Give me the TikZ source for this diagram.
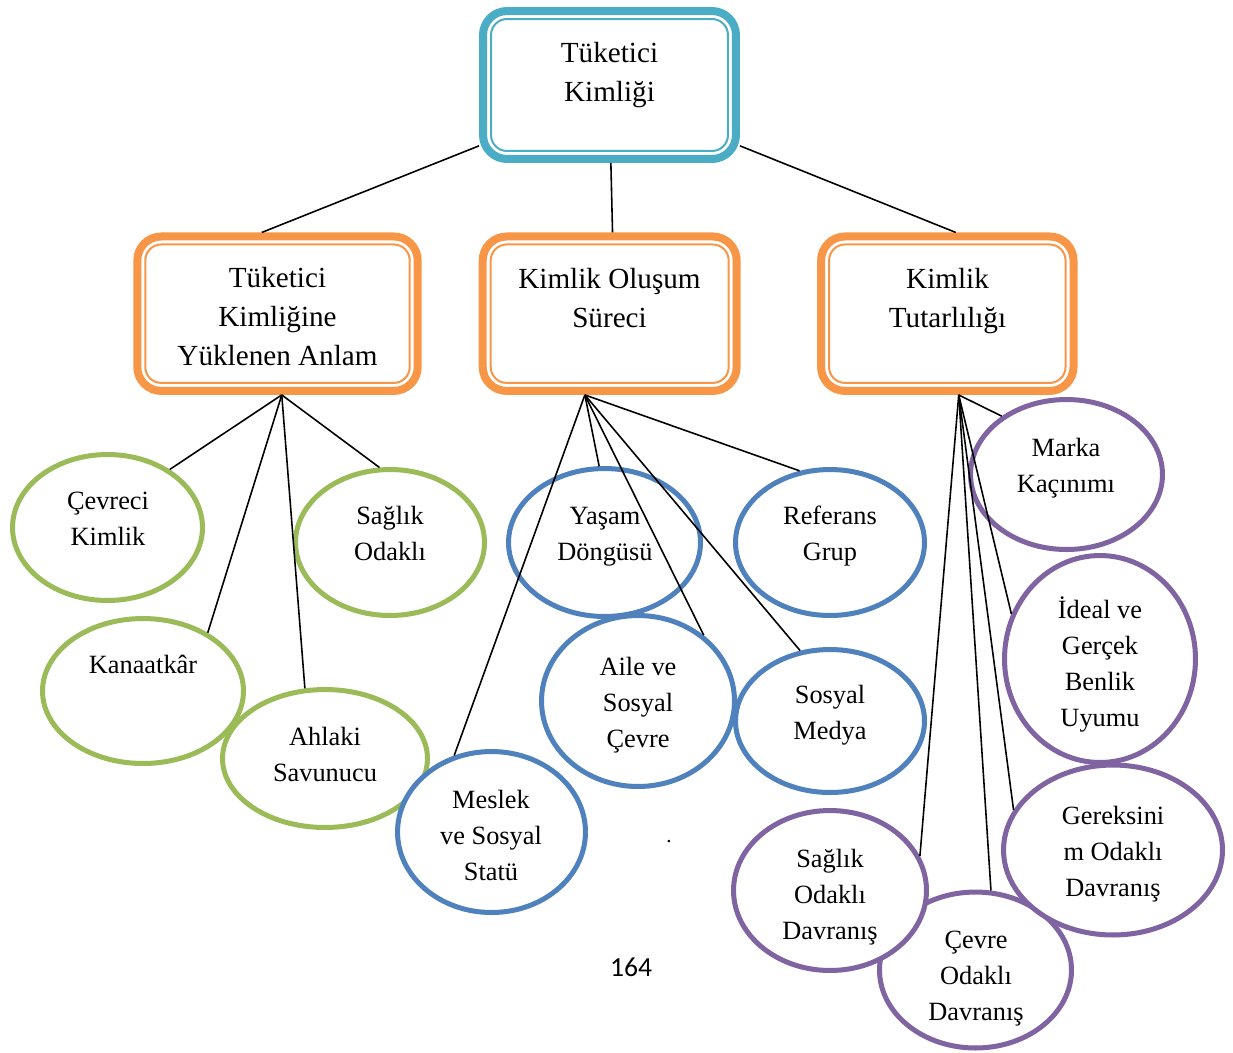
\documentclass[tikz,border=0pt]{standalone}
\usepackage{fontspec}
\setmainfont{Liberation Serif}
\newfontfamily\pagenumfont{Carlito}
\usetikzlibrary{shapes.geometric,calc}
\definecolor{cteal}{HTML}{4BACC6}
\definecolor{corange}{HTML}{F79646}
\definecolor{cgreen}{HTML}{9BBB59}
\definecolor{cblue}{HTML}{4F81BD}
\definecolor{cpurple}{HTML}{8064A2}
\begin{document}
\begin{tikzpicture}[x=0.02cm,y=-0.02cm,
  obox/.style={rectangle, draw=#1, line width=4.55pt, rounded corners=13.66pt, fill=white, inner sep=0pt},
  ibox/.style={draw=#1, line width=1.14pt, rounded corners=9.1pt},
  oval/.style={ellipse, draw=#1, line width=2.85pt, fill=white, inner sep=0pt},
  btxt/.style={align=center, font=\fontsize{16.6}{22.2}\selectfont, inner sep=0pt},
  etxt/.style={align=center, font=\fontsize{15}{20.5}\selectfont, inner sep=0pt},
  link/.style={draw=black, line width=0.9pt}]
\useasboundingbox (0,0) rectangle (1233,1052);

% left group ellipses
\node[oval=cgreen, minimum width=3.8cm, minimum height=2.92cm] (cev) at (107.5,527.5) {};
\node[oval=cgreen, minimum width=3.78cm, minimum height=2.92cm] (sag) at (390,542.5) {};
\node[oval=cgreen, minimum width=4.02cm, minimum height=2.9cm] (kan) at (143,691) {};
\node[oval=cgreen, minimum width=4.1cm, minimum height=2.76cm] (ahl) at (325,758.5) {};
% middle group ellipses
\node[oval=cblue, minimum width=3.76cm, minimum height=3.22cm] (mes) at (491.5,832) {};
\node[oval=cblue, minimum width=3.84cm, minimum height=2.96cm] (yas) at (604.5,542.5) {};
\node[oval=cblue, minimum width=3.78cm, minimum height=2.92cm] (ref) at (830,542.5) {};
\node[oval=cblue, minimum width=3.86cm, minimum height=3.42cm] (aile) at (638,701) {};
\node[oval=cblue, minimum width=3.78cm, minimum height=2.86cm] (sm) at (830,721) {};
% right group ellipses
\node[oval=cpurple, minimum width=3.84cm, minimum height=3.0cm] (mar) at (1066.5,474.5) {};
\node[oval=cpurple, minimum width=3.82cm, minimum height=4.14cm] (ide) at (1100,659) {};
\node[oval=cpurple, minimum width=3.84cm, minimum height=3.12cm] (cevo) at (975.5,970) {};
\node[oval=cpurple, minimum width=3.86cm, minimum height=3.2cm] (sod) at (830,890.5) {};
\node[oval=cpurple, minimum width=4.38cm, minimum height=3.4cm] (ger) at (1113,850) {};

% boxes
\node[obox=cteal, minimum width=5.06cm, minimum height=2.96cm] (top) at (609.5,85) {};
\node[obox=corange, minimum width=5.61cm, minimum height=3.09cm] (lbox) at (277.5,313.7) {};
\node[obox=corange, minimum width=5.08cm, minimum height=3.09cm] (mbox) at (609.7,313.7) {};
\node[obox=corange, minimum width=5.05cm, minimum height=3.09cm] (rbox) at (947.3,313.7) {};
\foreach \b/\c in {top/cteal, lbox/corange, mbox/corange, rbox/corange}{
  \draw[ibox=\c] ($(\b.south west)+(12,-12)$) rectangle ($(\b.north east)+(-12,12)$);
}

% connectors
\draw[link] (top.205) -- (lbox.101);
\draw[link] (top.-89) -- (mbox.88);
\draw[link] (top.-25) -- (rbox.84);

\draw[link] (lbox.-87) -- (cev.43);
\draw[link] (lbox.-87) -- (kan.42);
\draw[link] (lbox.-87) -- (ahl.106);
\draw[link] (lbox.-87) -- (sag.98);

\draw[link] (mbox.-107) -- (yas.94);
\draw[link] (mbox.-107) -- (ref.113);
\draw[link] (mbox.-107) -- (aile.45);
\draw[link] (mbox.-107) -- (sm.113);
\draw[link] (mbox.-107) -- (mes.116);

\draw[link] (rbox.-82.5) -- (mar.138);
\draw[link] (rbox.-82.5) -- (ide.153);
\draw[link] (rbox.-82.5) -- (ger.158);
\draw[link] (rbox.-82.5) -- (cevo.79);
\draw[link] (rbox.-82.5) -- (sod.21);

% texts
\node[btxt] (t0) at (609.5,75) {Tüketici\\Kimliği};
\node[btxt] (t1) at (277.5,316.5) {Tüketici\\Kimliğine\\Yüklenen Anlam};
\node[btxt] (t2) at (609.5,298) {Kimlik Oluşum\\Süreci};
\node[btxt] (t3) at (947.5,301.5) {Kimlik\\Tutarlılığı};

\node[etxt] (tcev) at (108,518.5) {Çevreci\\Kimlik};
\node[etxt] (tsag) at (390,533.5) {Sağlık\\Odaklı};
\node[etxt] (tkan) at (143,664) {Kanaatkâr};
\node[etxt] (tahl) at (325,754) {Ahlaki\\Savunucu};
\node[etxt] (tyas) at (605,537) {Yaşam\\Döngüsü};
\node[etxt] (tref) at (830,536) {Referans\\Grup};
\node[etxt] (taile) at (638,705) {Aile ve\\Sosyal\\Çevre};
\node[etxt] (tsm) at (830,715) {Sosyal\\Medya};
\node[etxt] (tmes) at (491,835.5) {Meslek\\ve Sosyal\\Statü};
\node[etxt] (tmar) at (1066,468) {Marka\\Kaçınımı};
\node[etxt] (tide) at (1100,664.5) {İdeal ve\\Gerçek\\Benlik\\Uyumu};
\node[etxt] (tger) at (1113,854.5) {Gereksini\\m Odaklı\\Davranış};
\node[etxt] (tsod) at (830,897) {Sağlık\\Odaklı\\Davranış};
\node[etxt] (tcevo) at (976,979) {Çevre\\Odaklı\\Davranış};

\node[inner sep=0pt, font=\pagenumfont\fontsize{15.7}{18}\selectfont] (pnum) at (631,967) {164};
\node[inner sep=0pt, anchor=base, font=\fontsize{12}{14}\selectfont] (dot) at (669,842) {.};
\end{tikzpicture}
\end{document}
